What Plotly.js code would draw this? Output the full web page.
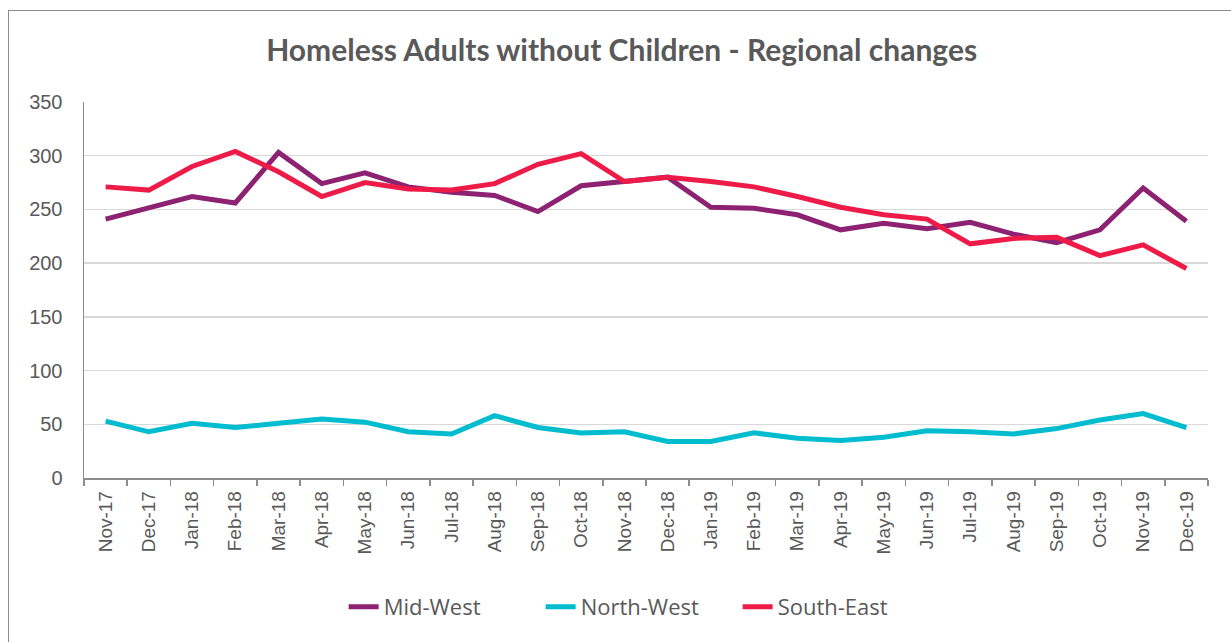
<!DOCTYPE html>
<html>
<head>
<meta charset="utf-8">
<script src="https://cdn.plot.ly/plotly-3.0.1.min.js"></script>
<style>
  html, body { margin: 0; padding: 0; background: #fff; }
  #wrap { position: relative; width: 1231px; height: 642px; overflow: hidden; }
  #frame { position: absolute; left: 8px; top: 10px; width: 1240px; height: 660px; border: 1.5px solid #8c8c8c; box-sizing: border-box; pointer-events: none; z-index: 5; }
  #chart { position: absolute; left: 0; top: 0; width: 1231px; height: 642px; }
</style>
</head>
<body>
<div id="wrap">
  <div id="chart"></div>
  <div id="frame"></div>
</div>
<script>
const months = ["Nov-17","Dec-17","Jan-18","Feb-18","Mar-18","Apr-18","May-18","Jun-18","Jul-18","Aug-18","Sep-18","Oct-18","Nov-18","Dec-18","Jan-19","Feb-19","Mar-19","Apr-19","May-19","Jun-19","Jul-19","Aug-19","Sep-19","Oct-19","Nov-19","Dec-19"];
const midWest   = [241,252,262,256,303,274,284,271,266,263,248,272,276,280,252,251,245,231,237,232,238,227,219,231,270,239];
const northWest = [53,43,51,47,51,55,52,43,41,58,47,42,43,34,34,42,37,35,38,44,43,41,46,54,60,47];
const southEast = [271,268,290,304,285,262,275,269,268,274,292,302,276,280,276,271,262,252,245,241,218,223,224,207,217,195];

const seriesNames = ["Mid-West","North-West","South-East"];
const seriesColors = ["#8c2271","#00bccf","#ee1b48"];
const seriesData = [midWest, northWest, southEast];

const traces = seriesData.map((vals, i) => ({
  type: "scatter",
  mode: "lines",
  name: seriesNames[i],
  x: months,
  y: vals,
  line: { color: seriesColors[i], width: 5 },
  hoverinfo: "x+y+name"
}));

const layout = {
  width: 1231,
  height: 642,
  margin: { l: 84, r: 23, t: 102, b: 164 },
  paper_bgcolor: "#ffffff",
  plot_bgcolor: "#ffffff",
  font: { family: "Liberation Sans, Arial, sans-serif", color: "#595959", size: 20 },
  title: {
    text: "<b>Homeless Adults without Children - Regional changes</b>",
    font: { family: "Lato, Open Sans, sans-serif", size: 30, color: "#595959" },
    x: 0.505, xref: "container", xanchor: "center",
    y: 0.922, yref: "container", yanchor: "middle"
  },
  xaxis: {
    type: "category",
    range: [-0.5, months.length - 0.5],
    tickangle: -90,
    ticks: "outside",
    tickson: "boundaries",
    ticklen: 6,
    tickwidth: 1.5,
    tickcolor: "#8c8c8c",
    showline: true,
    linecolor: "#8c8c8c",
    linewidth: 1.5,
    showgrid: false,
    zeroline: false,
    ticklabelstandoff: 4,
    tickfont: { size: 19, color: "#595959" },
    fixedrange: true
  },
  yaxis: {
    range: [0, 350],
    dtick: 50,
    tick0: 0,
    showline: true,
    linecolor: "#8c8c8c",
    linewidth: 1.5,
    showgrid: true,
    gridcolor: "#d9d9d9",
    gridwidth: 1.5,
    zeroline: false,
    ticks: "",
    ticklabelstandoff: 16,
    tickfont: { size: 20, color: "#595959" },
    fixedrange: true
  },
  showlegend: true,
  legend: {
    orientation: "h",
    x: 0.231, xanchor: "left",
    y: -0.343, yanchor: "middle",
    font: { family: "Open Sans, sans-serif", size: 22, color: "#595959" },
    entrywidth: 152,
    entrywidthmode: "pixels",
    traceorder: "normal"
  }
};

Plotly.newPlot("chart", traces, layout, { displayModeBar: false, staticPlot: true });
</script>
</body>
</html>
